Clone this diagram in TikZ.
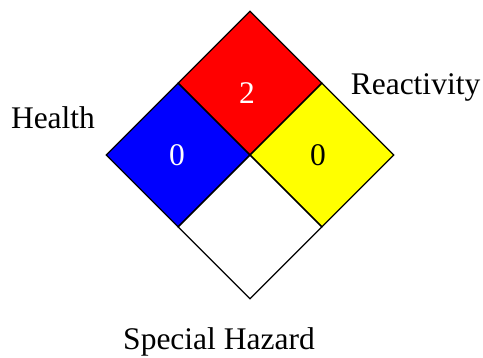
\documentclass[tikz,border=0pt]{standalone}
\usepackage{fontspec}
\setmainfont{Liberation Serif}
\usetikzlibrary{shapes.geometric,positioning}
\definecolor{firered}{RGB}{255,0,0}
\definecolor{healthblue}{RGB}{0,0,255}
\definecolor{reactyellow}{RGB}{255,255,0}
\tikzset{
    quad/.style={
           diamond,
           draw=black, line width=1.2pt,
           aspect=1,
           inner sep=0pt,
           minimum width=144pt,
           minimum height=144pt
           },
    rating/.style={
           font=\fontsize{31.5}{36}\selectfont,
           inner sep=0pt,
           anchor=base
           },
    caption/.style={
           font=\fontsize{31.5}{36}\selectfont,
           inner sep=0pt,
           anchor=base
           }
}

\begin{document}
\begin{tikzpicture}[x=1pt, y=1pt, on grid]
\useasboundingbox (0,0) rectangle (483,358);
   \node[quad, fill=firered] (fire) at (250,275) {};
   \node[quad, fill=healthblue] (health) [below left=72pt and 72pt of fire] {};
   \node[quad, fill=reactyellow] (react) [below right=72pt and 72pt of fire] {};
   \node[quad, fill=white] (special) [below=144pt of fire] {};
   % ratings
   \node[rating, text=white] (firenum) at ([shift={(-3,-21)}]fire.center) {2};
   \node[rating, text=white] (healthnum) at ([shift={(-1,-11)}]health.center) {0};
   \node[rating] (reactnum) at ([shift={(-4,-11)}]react.center) {0};
   % captions
   \node[caption] (healthlbl) at (53,229) {Health};
   \node[caption] (reactlbl) at (415.5,263) {Reactivity};
   \node[caption] (speciallbl) at (219,8) {Special Hazard};
\end{tikzpicture}
\end{document}
